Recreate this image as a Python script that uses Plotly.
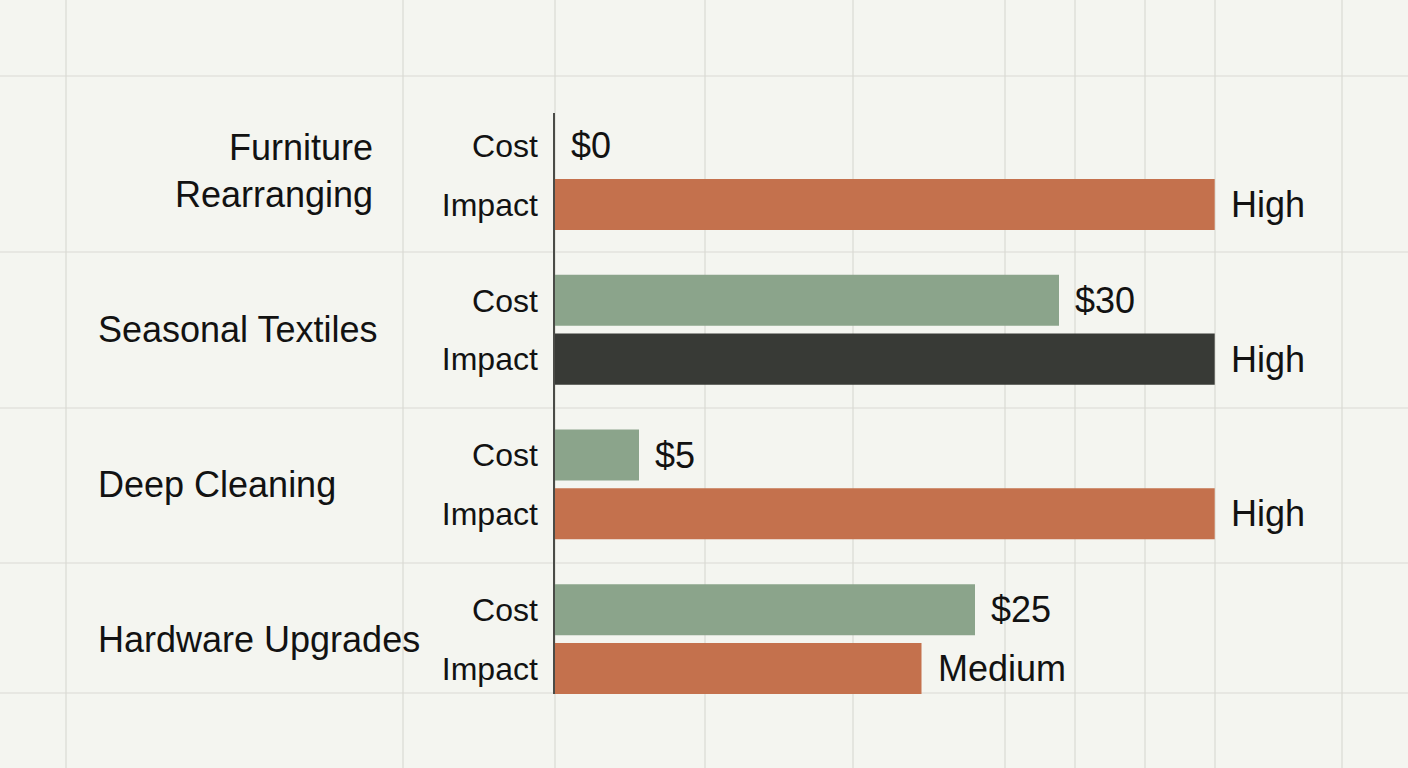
import plotly.graph_objects as go

# ── Data ──────────────────────────────────────────────────────────────────────
activities   = ["Furniture<br>Rearranging", "Seasonal Textiles", "Deep Cleaning", "Hardware Upgrades"]
cost_usd     = [0, 30, 5, 25]
impact       = ["High", "High", "High", "Medium"]
impact_score = {"Low": 1, "Medium": 5, "High": 9}
highlight    = "Seasonal Textiles"

# ── Colours / fonts ───────────────────────────────────────────────────────────
BG    = "#f4f5f0"
GRID  = "#d9dad4"
SAGE  = "#8ba48b"
CLAY  = "#c4714d"
CHAR  = "#383a36"
INK   = "#121212"
AXIS  = "#4a4b47"
FONT  = "Liberation Sans, Arial, sans-serif"

W, H = 1408, 768

# background sheet grid (pixel positions, decoration only)
GRID_X = [66, 403, 555, 705, 853, 1005, 1075, 1145, 1215, 1342]
GRID_Y = [76, 252, 408, 563, 693]

# ── Layout helpers ────────────────────────────────────────────────────────────
n      = len(activities)
pos    = list(range(n))
OFF    = 0.19          # half distance between the Cost and Impact bar in a group
BAR_W  = 0.33
cost_y = [p - OFF for p in pos]
imp_y  = [p + OFF for p in pos]

imp_vals   = [impact_score[v] for v in impact]
imp_colors = [CHAR if a == highlight else CLAY for a in activities]

fig = go.Figure()

fig.add_trace(go.Bar(
    y=cost_y, x=cost_usd, orientation="h", width=BAR_W,
    marker=dict(color=SAGE, line_width=0), name="Cost",
    hovertemplate="Cost: $%{x}<extra></extra>",
))
fig.add_trace(go.Bar(
    y=imp_y, x=imp_vals, orientation="h", width=BAR_W, xaxis="x2",
    marker=dict(color=imp_colors, line_width=0), name="Impact",
    customdata=impact, hovertemplate="Impact: %{customdata}<extra></extra>",
))

# value labels
val_font = dict(family=FONT, size=36, color=INK)
for c, y in zip(cost_usd, cost_y):
    fig.add_annotation(x=c, y=y, xref="x", yref="y", text=f"${c}",
                       xanchor="left", yanchor="middle", xshift=14,
                       showarrow=False, font=val_font)
for v, s, y in zip(impact, imp_vals, imp_y):
    fig.add_annotation(x=s, y=y, xref="x2", yref="y", text=v,
                       xanchor="left", yanchor="middle", xshift=14,
                       showarrow=False, font=val_font)

# activity labels
for a, p in zip(activities, pos):
    multi = "<br>" in a
    fig.add_annotation(x=(375 if multi else 96) / W, y=p, xref="paper", yref="y",
                       text=a, xanchor="right" if multi else "left",
                       align="right" if multi else "left", yanchor="middle",
                       yshift=4 if multi else 0, showarrow=False,
                       font=dict(family=FONT, size=36, color=INK))

# background grid
shapes = []
for gx in GRID_X:
    shapes.append(dict(type="line", xref="paper", yref="paper", layer="below",
                       x0=gx / W, x1=gx / W, y0=0, y1=1,
                       line=dict(color=GRID, width=1.2)))
for gy in GRID_Y:
    shapes.append(dict(type="line", xref="paper", yref="paper", layer="below",
                       x0=0, x1=1, y0=1 - gy / H, y1=1 - gy / H,
                       line=dict(color=GRID, width=1.2)))

x_dom = [555 / W, 1]
fig.update_layout(
    width=W, height=H,
    template="none",
    paper_bgcolor=BG, plot_bgcolor="rgba(0,0,0,0)",
    margin=dict(l=0, r=0, t=0, b=0),
    barmode="overlay",
    showlegend=False,
    shapes=shapes,
    font=dict(family=FONT, color=INK),
    xaxis=dict(domain=x_dom, range=[0, (W - 555) / 16.8], visible=False,
               automargin=False, fixedrange=True),
    xaxis2=dict(domain=x_dom, range=[0, (W - 555) / 73.3], overlaying="x",
                visible=False, automargin=False, fixedrange=True),
    yaxis=dict(
        domain=[(H - 694) / H, (H - 113) / H],
        range=[3.355, -0.401],
        tickvals=cost_y + imp_y,
        ticktext=["Cost"] * n + ["Impact"] * n,
        tickfont=dict(family=FONT, size=32, color=INK),
        ticklabelstandoff=9,
        ticks="",
        showgrid=False, zeroline=False,
        showline=True, linecolor=AXIS, linewidth=1.5,
        automargin=False, fixedrange=True,
    ),
)

# drop the browser's default body margin so the figure sits at (0, 0)
fig.write_html(
    "out.html",
    config={"displayModeBar": False},
    post_script="document.body.style.margin='0';document.body.style.overflow='hidden';",
)
